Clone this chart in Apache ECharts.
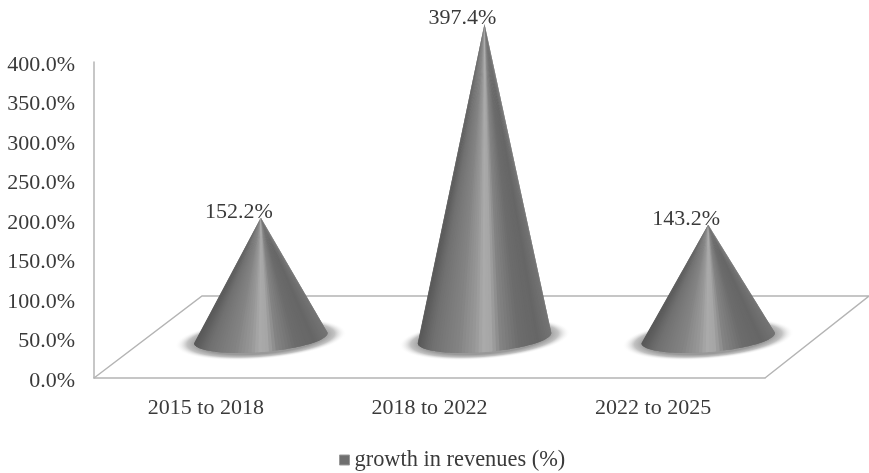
<!DOCTYPE html>
<html>
<head>
<meta charset="utf-8">
<style>
html, body { margin: 0; padding: 0; background: #fff; }
#chart { width: 869px; height: 473px; }
</style>
<script src="https://cdn.jsdelivr.net/npm/echarts@6/dist/echarts.min.js"></script>
</head>
<body>
<div id="chart"></div>
<script>
var categories = ['2015 to 2018', '2018 to 2022', '2022 to 2025'];
var revenueGrowth = [152.2, 397.4, 143.2];
var seriesName = 'growth in revenues (%)';

var fontName = '"Liberation Serif", "Times New Roman", serif';
var textColor = '#3a3a3a';
var lineColor = '#b4b4b4';

// depth of the fake 3d floor, in px
var floorDx = 108, floorDy = -82, floorRightDx = 104;
// cones stand in the middle of the floor
var coneDx = 55, coneDy = -40;
var baseRx = 67, baseRy = 14;
var tilt = -4.5 * Math.PI / 180;

// grey level across the cone, left rim to right rim
var shadeStops = [
    [0, 88], [0.1, 112], [0.3, 132], [0.42, 152], [0.48, 170], [0.54, 166],
    [0.62, 130], [0.76, 108], [0.9, 102], [1, 116]
];

function shadeAt(t) {
    for (var i = 1; i < shadeStops.length; i++) {
        if (t <= shadeStops[i][0]) {
            var a = shadeStops[i - 1], b = shadeStops[i];
            var g = Math.round(a[1] + (b[1] - a[1]) * (t - a[0]) / (b[0] - a[0]));
            return 'rgb(' + g + ',' + g + ',' + g + ')';
        }
    }
    return '#777';
}

function pointOnBase(cx, cy, a) {
    var x = baseRx * Math.cos(a), y = baseRy * Math.sin(a);
    return [
        cx + x * Math.cos(tilt) - y * Math.sin(tilt),
        cy + x * Math.sin(tilt) + y * Math.cos(tilt)
    ];
}

function renderFloor(params) {
    var g = params.coordSys;
    var left = g.x, right = g.x + g.width, bottom = g.y + g.height;
    return {
        type: 'polyline',
        silent: true,
        shape: {
            points: [
                [left, bottom],
                [left + floorDx, bottom + floorDy],
                [right + floorRightDx, bottom + floorDy],
                [right, bottom]
            ]
        },
        style: { fill: null, stroke: lineColor, lineWidth: 1.5 }
    };
}

function renderCone(params, api) {
    var base = api.coord([api.value(0), 0]);
    var top = api.coord([api.value(0), api.value(1)]);
    var cx = base[0] + coneDx, cy = base[1] + coneDy;
    var apex = [top[0] + coneDx, top[1] + coneDy];

    var children = [{
        type: 'circle',
        silent: true,
        x: cx,
        y: cy + 1,
        rotation: -tilt,
        scaleY: 0.235,
        shape: { cx: 0, cy: 0, r: 86 },
        style: {
            fill: new echarts.graphic.RadialGradient(0.5, 0.5, 0.5, [
                { offset: 0, color: '#999' },
                { offset: 0.74, color: '#999' },
                { offset: 0.86, color: '#c2c2c2' },
                { offset: 1, color: 'rgba(255,255,255,0)' }
            ])
        }
    }];

    // wedges from the apex, so the shading narrows towards the tip.
    // each one runs under the next so no seams show
    var n = 60;
    for (var i = 0; i < n; i++) {
        var a1 = Math.PI - Math.PI * i / n;
        var a2 = Math.PI - Math.PI * Math.min(i + 2, n) / n;
        var t = (1 - Math.cos(Math.PI * (i + 0.5) / n)) / 2;
        children.push({
            type: 'polygon',
            shape: { points: [apex, pointOnBase(cx, cy, a1), pointOnBase(cx, cy, (a1 + a2) / 2), pointOnBase(cx, cy, a2)] },
            style: { fill: shadeAt(t) }
        });
    }

    children.push({
        type: 'text',
        silent: true,
        x: apex[0] - 22,
        y: apex[1] - 6,
        style: {
            text: api.value(1).toFixed(1) + '%',
            fill: textColor,
            font: '22px ' + fontName,
            align: 'center',
            verticalAlign: 'middle'
        }
    });

    return { type: 'group', children: children };
}

var chart = echarts.init(document.getElementById('chart'));

var option = {
    backgroundColor: '#fff',
    animation: false,
    grid: { left: 94, top: 62, width: 671, height: 316, containLabel: false },
    legend: {
        left: 334,
        top: 444,
        itemWidth: 10,
        itemHeight: 10,
        itemGap: 4,
        data: [{ name: seriesName, icon: 'rect', itemStyle: { color: '#6f6f6f', borderColor: '#9a9a9a', borderWidth: 1 } }],
        textStyle: { fontFamily: fontName, fontSize: 22.4, color: textColor }
    },
    xAxis: {
        type: 'category',
        data: categories,
        axisLine: { lineStyle: { color: lineColor, width: 1.5 } },
        axisTick: { show: false },
        axisLabel: { margin: 19, fontFamily: fontName, fontSize: 22, color: textColor }
    },
    yAxis: {
        type: 'value',
        min: 0,
        max: 400,
        interval: 50,
        axisLine: { show: true, lineStyle: { color: lineColor, width: 1.5 } },
        axisTick: { show: false },
        splitLine: { show: false },
        axisLabel: {
            margin: 19,
            verticalAlign: 'top',
            lineHeight: 6,
            fontFamily: fontName,
            fontSize: 22,
            color: textColor,
            formatter: function (v) { return v.toFixed(1) + '%'; }
        }
    },
    series: [
        {
            type: 'custom',
            name: 'floor',
            clip: false,
            silent: true,
            z: 1,
            renderItem: renderFloor,
            data: [0]
        },
        {
            type: 'custom',
            name: seriesName,
            clip: false,
            z: 2,
            renderItem: renderCone,
            encode: { x: 0, y: 1 },
            data: revenueGrowth.map(function (v, i) { return [i, v]; })
        }
    ]
};

chart.setOption(option);
</script>
</body>
</html>
